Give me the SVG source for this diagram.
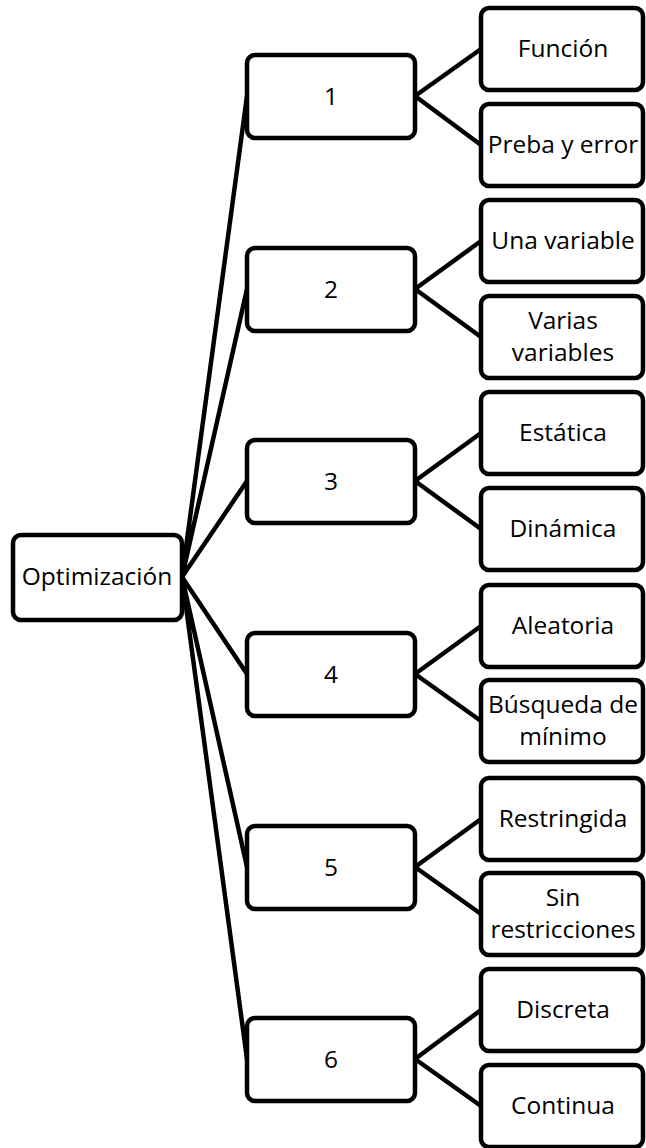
<svg xmlns="http://www.w3.org/2000/svg" width="646" height="1148" viewBox="0 0 646 1148">
<style>
.box{fill:#fff;stroke:#000;stroke-width:4.5}
.lbl{font-family:"Open Sans","Noto Sans","Liberation Sans",sans-serif;font-size:24.5px;fill:#000;text-anchor:middle}
.con{stroke:#000;stroke-width:4.5;fill:none}
</style>
<rect width="646" height="1148" fill="#fff"/>
<g id="connectors">
<path class="con" d="M182,577 L247,96 M182,577 L247,289 M182,577 L247,481 M182,577 L247,674 M182,577 L247,867 M182,577 L247,1059"/>
<path class="con" d="M415,96 L481,49 M415,96 L481,145"/>
<path class="con" d="M415,289 L481,241 M415,289 L481,337"/>
<path class="con" d="M415,481 L481,433 M415,481 L481,529"/>
<path class="con" d="M415,674 L481,626 M415,674 L481,721"/>
<path class="con" d="M415,867 L481,819 M415,867 L481,914"/>
<path class="con" d="M415,1059 L481,1010 M415,1059 L481,1106"/>
</g>
<g id="root"><rect class="box" x="13" y="535" width="169" height="85" rx="8"/><text class="lbl" x="97" y="585">Optimización</text></g>
<g id="n1"><rect class="box" x="247" y="55" width="168" height="83" rx="8"/><text class="lbl" x="331" y="105">1</text></g>
<g id="n2"><rect class="box" x="247" y="248" width="168" height="83" rx="8"/><text class="lbl" x="331" y="298">2</text></g>
<g id="n3"><rect class="box" x="247" y="440" width="168" height="83" rx="8"/><text class="lbl" x="331" y="490">3</text></g>
<g id="n4"><rect class="box" x="247" y="633" width="168" height="83" rx="8"/><text class="lbl" x="331" y="683">4</text></g>
<g id="n5"><rect class="box" x="247" y="826" width="168" height="83" rx="8"/><text class="lbl" x="331" y="876">5</text></g>
<g id="n6"><rect class="box" x="247" y="1018" width="168" height="83" rx="8"/><text class="lbl" x="331" y="1068">6</text></g>
<g id="c1a"><rect class="box" x="481" y="8" width="162" height="82" rx="8"/><text class="lbl" x="563" y="57">Función</text></g>
<g id="c1b"><rect class="box" x="481" y="104" width="162" height="82" rx="8"/><text class="lbl" x="563" y="153">Preba y error</text></g>
<g id="c2a"><rect class="box" x="481" y="200" width="162" height="82" rx="8"/><text class="lbl" x="563" y="249">Una variable</text></g>
<g id="c2b"><rect class="box" x="481" y="296" width="162" height="82" rx="8"/><text class="lbl" x="563" y="329">Varias</text><text class="lbl" x="563" y="361">variables</text></g>
<g id="c3a"><rect class="box" x="481" y="392" width="162" height="82" rx="8"/><text class="lbl" x="563" y="441">Estática</text></g>
<g id="c3b"><rect class="box" x="481" y="488" width="162" height="82" rx="8"/><text class="lbl" x="563" y="537">Dinámica</text></g>
<g id="c4a"><rect class="box" x="481" y="585" width="162" height="82" rx="8"/><text class="lbl" x="563" y="634">Aleatoria</text></g>
<g id="c4b"><rect class="box" x="481" y="680" width="162" height="82" rx="8"/><text class="lbl" x="563" y="713">Búsqueda de</text><text class="lbl" x="563" y="745">mínimo</text></g>
<g id="c5a"><rect class="box" x="481" y="778" width="162" height="82" rx="8"/><text class="lbl" x="563" y="827">Restringida</text></g>
<g id="c5b"><rect class="box" x="481" y="873" width="162" height="82" rx="8"/><text class="lbl" x="563" y="906">Sin</text><text class="lbl" x="563" y="938">restricciones</text></g>
<g id="c6a"><rect class="box" x="481" y="969" width="162" height="82" rx="8"/><text class="lbl" x="563" y="1018">Discreta</text></g>
<g id="c6b"><rect class="box" x="481" y="1065" width="162" height="82" rx="8"/><text class="lbl" x="563" y="1114">Continua</text></g>
</svg>
